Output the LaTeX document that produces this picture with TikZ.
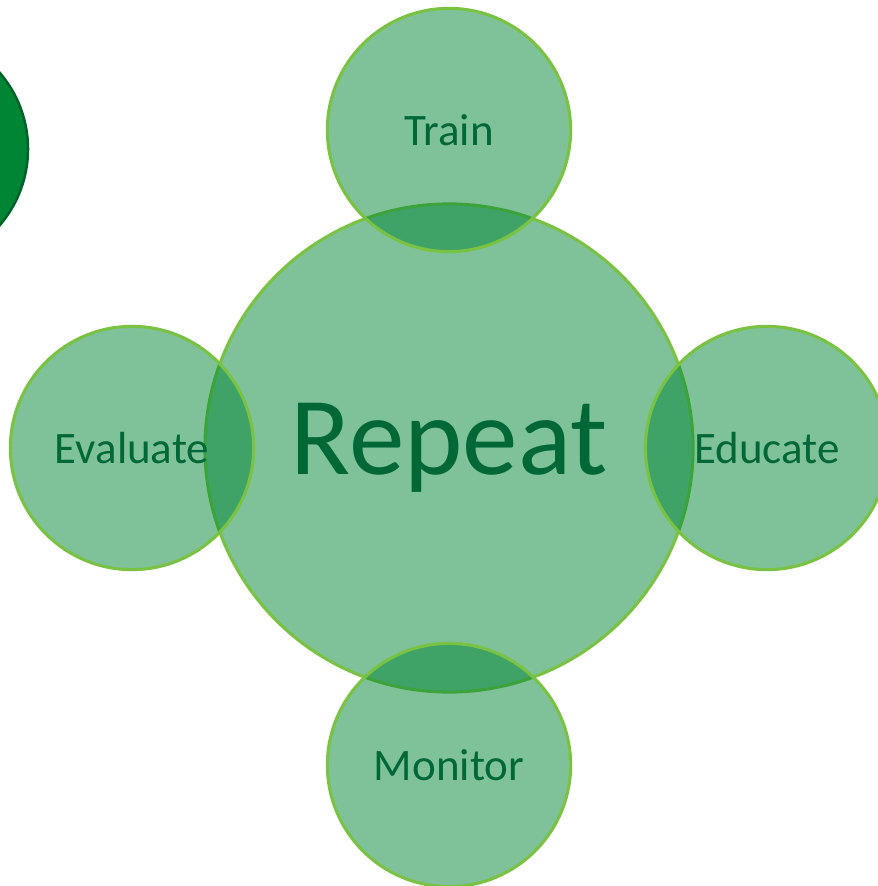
\documentclass[tikz,border=0pt]{standalone}
\usepackage{fontspec}
\setmainfont{Carlito}
\usepackage{tikz}
\usetikzlibrary{calc, positioning}

\definecolor{leafgreen}{RGB}{0,133,53}
\definecolor{limeline}{RGB}{122,194,66}
\definecolor{darktext}{RGB}{0,104,55}
\definecolor{darkedge}{RGB}{0,100,42}

\tikzset{
    bubble/.style={circle, draw=limeline, line width=2.2pt, fill=leafgreen,
        fill opacity=0.5, text opacity=1, text=darktext, inner sep=0pt},
    smallbubble/.style={bubble, minimum size=6.08cm, font=\fontsize{32}{32}\selectfont},
    bigbubble/.style={bubble, minimum size=12.2cm, font=\fontsize{79}{79}\selectfont}
}

\begin{document}
\begin{tikzpicture}[x=0.025cm, y=-0.025cm]
        \clip (0,0) rectangle (878,886);
        % dark disc cut by the left edge
        \draw[fill=leafgreen, draw=darkedge, line width=1.8pt] (-89,149) circle[radius=117];
        \node[bigbubble] (repeat) at (449,448) {Repeat};
        \node[smallbubble] (train) at (449,130) {Train};
        \node[smallbubble] (evaluate) at (132,448) {Evaluate};
        \node[smallbubble] (educate) at (767,448) {Educate};
        \node[smallbubble] (monitor) at (449,765) {Monitor};
    \end{tikzpicture}
\end{document}
